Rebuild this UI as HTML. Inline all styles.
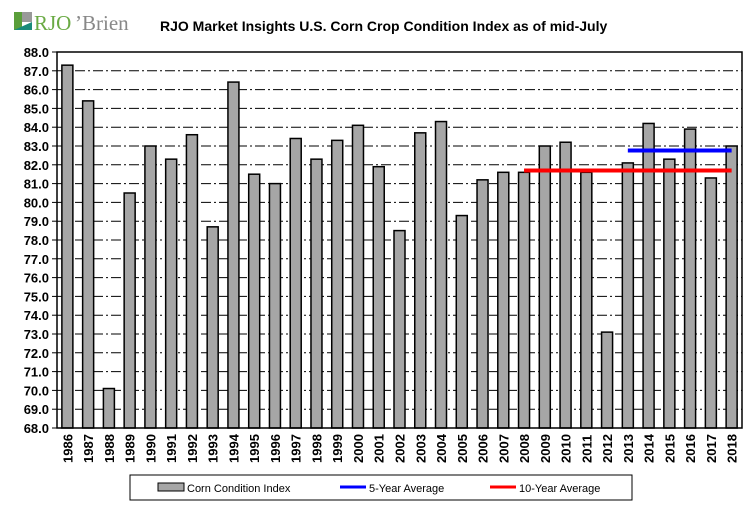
<!DOCTYPE html>
<html><head><meta charset="utf-8"><style>
body{margin:0;background:#fff;}
svg{display:block;font-family:"Liberation Sans",Arial,sans-serif;}
</style></head><body>
<svg id="c" width="756" height="516">
<g>
<rect x="14" y="12" width="8" height="18" fill="#5a9e3a"/>
<rect x="22" y="12" width="10" height="10" fill="#999"/>
<polygon points="14,30 32,22 32,30" fill="#1a8a7a"/>
<text x="34" y="30" font-size="21" fill="#6aaa44" font-family="Liberation Serif,serif">RJO</text>
<text x="75" y="30" font-size="21" fill="#888" font-family="Liberation Serif,serif">’Brien</text>
</g>
<text x="160" y="31" font-size="14" font-weight="bold" fill="#000">RJO Market Insights U.S. Corn Crop Condition Index as of mid-July</text>
<g id="plot"></g>
<g>
<rect x="130" y="475" width="502" height="25" fill="#fff" stroke="#000"/>
<g><rect x="158" y="483" width="26" height="8" fill="#a6a6a6" stroke="#000"/><text x="187" y="492" font-size="11">Corn Condition Index</text></g>
<g><line x1="340" y1="487" x2="366" y2="487" stroke="#0000ff" stroke-width="3"/><text x="369" y="492" font-size="11">5-Year Average</text></g>
<g><line x1="490" y1="487" x2="516" y2="487" stroke="#ff0000" stroke-width="3"/><text x="519" y="492" font-size="11">10-Year Average</text></g>
</g>
</svg>
<script>
const years=[1986,1987,1988,1989,1990,1991,1992,1993,1994,1995,1996,1997,1998,1999,2000,2001,2002,2003,2004,2005,2006,2007,2008,2009,2010,2011,2012,2013,2014,2015,2016,2017,2018];
const values=[87.3,85.4,70.1,80.5,83.0,82.3,83.6,78.7,86.4,81.5,81.0,83.4,82.3,83.3,84.1,81.9,78.5,83.7,84.3,79.3,81.2,81.6,81.6,83.0,83.2,81.6,73.1,82.1,84.2,82.3,83.9,81.3,83.0];
const avg5=[82.76];const avg5Range=[2013,2018];
const avg10=[81.7];const avg10Range=[2008,2018];
const yTicks=[68,69,70,71,72,73,74,75,76,77,78,79,80,81,82,83,84,85,86,87,88];
const NS="http://www.w3.org/2000/svg";
const L=57,R=742,T=52,B=428,ymin=68,ymax=88;
const slot=(R-L)/years.length;
const y=v=>B-(v-ymin)/(ymax-ymin)*(B-T);
const xc=i=>L+slot*(i+0.5);
const g=document.getElementById('plot');
function mk(t,a){const e=document.createElementNS(NS,t);for(const k in a)e.setAttribute(k,a[k]);g.appendChild(e);return e;}
yTicks.forEach(v=>{
 if(v>ymin&&v<ymax){const l=mk('line',{x1:L,x2:R,y1:y(v),y2:y(v),stroke:'#000','stroke-dasharray':'10,3,2,3'});
 
 }
 const tk=mk('line',{x1:L-5,x2:L,y1:y(v),y2:y(v),stroke:'#000'});
 
 
 const t=mk('text',{x:L-8,y:y(v)+5,'text-anchor':'end','font-size':'13','font-weight':'bold'});
 t.textContent=v.toFixed(1);
 
 
});
values.forEach((v,i)=>{
 const b=mk('rect',{x:xc(i)-5.5,y:y(v),width:11,height:B-y(v),fill:'#a6a6a6',stroke:'#000','stroke-width':1.5});
 
 
 const t=mk('text',{transform:`translate(${xc(i)+5},${B+35}) rotate(-90)`,'font-size':'13','font-weight':'bold'});
 t.textContent=years[i];
 
 
});
const frame=mk('rect',{x:L,y:T,width:R-L,height:B-T,fill:'none',stroke:'#000','stroke-width':1.5});


const i10=years.indexOf(avg10Range[0]),j10=years.indexOf(avg10Range[1]);
const l10=mk('line',{x1:xc(i10),x2:xc(j10),y1:y(avg10[0]),y2:y(avg10[0]),stroke:'#ff0000','stroke-width':4});


const i5=years.indexOf(avg5Range[0]),j5=years.indexOf(avg5Range[1]);
const l5=mk('line',{x1:xc(i5),x2:xc(j5),y1:y(avg5[0]),y2:y(avg5[0]),stroke:'#0000ff','stroke-width':4});


</script>
</body></html>
